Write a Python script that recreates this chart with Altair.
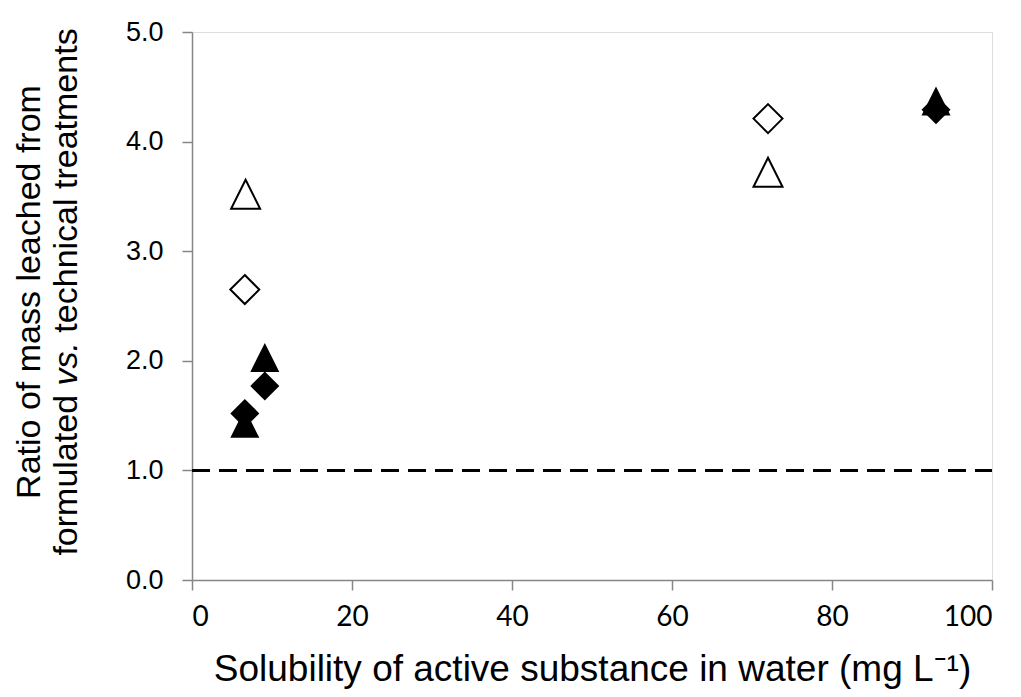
import altair as alt
import pandas as pd

# Data
solubility = [6.7, 6.6, 9.1, 9.1, 6.6, 6.6, 72.0, 72.0, 93.0, 93.0]
ratio = [3.52, 2.65, 2.03, 1.77, 1.52, 1.43, 4.21, 3.72, 4.37, 4.29]
marker = ["triangle", "diamond", "triangle", "diamond", "diamond", "triangle",
          "diamond", "triangle", "triangle", "diamond"]
filled = [False, False, True, True, True, True, False, False, True, True]

ref_x = [0, 100]
ref_y = [1.0, 1.0]

x_ticks = [0, 20, 40, 60, 80, 100]
y_ticks = [0, 1, 2, 3, 4, 5]

x_title = "Solubility of active substance in water (mg L\u207b\u00b9)"
y_title_line1 = "Ratio of mass leached from"
y_title_line2 = ["formulated", "vs.", "technical treatments"]
y_title_line2_style = ["normal", "italic", "normal"]
# Arial/Liberation Sans advance widths (em) used to place the pieces of line 2
y_title_line2_em = [4.724, 1.278, 8.948]
SPACE_EM = 0.278

df = pd.DataFrame({"solubility": solubility, "ratio": ratio,
                   "marker": marker, "filled": filled})
ref = pd.DataFrame({"x": ref_x, "y": ref_y})

DIAMOND = "M0,-1L1,0L0,1L-1,0Z"
TRIANGLE = "M0,-1L1,1L-1,1Z"

W, H = 800, 548
TFS = 34  # y title font size

xscale = alt.Scale(domain=[0, 100], nice=False)
yscale = alt.Scale(domain=[0, 5], nice=False)
shape_scale = alt.Scale(domain=["diamond", "triangle"], range=[DIAMOND, TRIANGLE])

axis_color = "#868686"

x_axis = alt.Axis(values=x_ticks, grid=False,
                  domainColor=axis_color, domainWidth=1.5,
                  tickColor=axis_color, tickWidth=1.5, tickSize=10,
                  labelFont="Lato", labelFontSize=28, labelColor="black",
                  labelPadding=13,
                  title=x_title,
                  titleFont="Liberation Sans", titleFontSize=37,
                  titleFontWeight="normal", titleColor="black", titlePadding=20)

y_axis = alt.Axis(values=y_ticks, format=".1f", grid=False,
                  domainColor=axis_color, domainWidth=1.5,
                  tickColor=axis_color, tickWidth=1.5, tickSize=10,
                  labelFont="Liberation Sans", labelFontSize=27, labelColor="black",
                  labelPadding=19, title=None)

dash = alt.Chart(ref).mark_line(color="black", strokeWidth=3,
                                strokeDash=[18, 9]).encode(
    x=alt.X("x:Q", scale=xscale, axis=x_axis),
    y=alt.Y("y:Q", scale=yscale, axis=y_axis),
)

open_pts = alt.Chart(df).transform_filter("!datum.filled").mark_point(
    filled=False, stroke="black", strokeWidth=2, size=841, opacity=1
).encode(
    x=alt.X("solubility:Q", scale=xscale),
    y=alt.Y("ratio:Q", scale=yscale),
    shape=alt.Shape("marker:N", scale=shape_scale, legend=None),
)

filled_pts = alt.Chart(df).transform_filter("datum.filled").mark_point(
    filled=True, color="black", size=841, opacity=1
).encode(
    x=alt.X("solubility:Q", scale=xscale),
    y=alt.Y("ratio:Q", scale=yscale),
    shape=alt.Shape("marker:N", scale=shape_scale, legend=None),
)

# Rotated two-line y-axis title (with italic "vs.")
title_center = 260
line1 = alt.Chart(pd.DataFrame({"t": [y_title_line1]})).mark_text(
    angle=270, align="center", baseline="middle", font="Liberation Sans",
    fontSize=TFS, color="black"
).encode(text="t:N", x=alt.value(-162), y=alt.value(title_center))

total_px = (sum(y_title_line2_em) + 2 * SPACE_EM) * TFS
start = title_center + total_px / 2
pieces = []
for txt, style, em in zip(y_title_line2, y_title_line2_style, y_title_line2_em):
    pieces.append(
        alt.Chart(pd.DataFrame({"t": [txt]})).mark_text(
            angle=270, align="left", baseline="middle", font="Liberation Sans",
            fontSize=TFS, fontStyle=style, color="black"
        ).encode(text="t:N", x=alt.value(-125), y=alt.value(start))
    )
    start -= (em + SPACE_EM) * TFS

chart = alt.layer(dash, open_pts, filled_pts, line1, *pieces).properties(
    width=W, height=H,
    autosize=alt.AutoSizeParams(type="none"),
    padding={"left": 184, "top": 24, "right": 20, "bottom": 109},
).configure_view(stroke=None).configure(background="white")

chart.save("out.html", embed_options={"renderer": "svg", "actions": False})
